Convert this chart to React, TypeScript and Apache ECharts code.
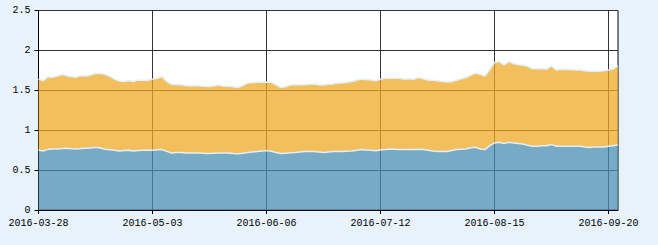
import React, { useEffect, useRef } from "react";
import * as echarts from "echarts";

const dates: string[] = [
  "2016-03-28","2016-03-29","2016-03-30","2016-03-31","2016-04-01",
  "2016-04-05","2016-04-06","2016-04-07","2016-04-08",
  "2016-04-11","2016-04-12","2016-04-13","2016-04-14","2016-04-15",
  "2016-04-18","2016-04-19","2016-04-20","2016-04-21","2016-04-22",
  "2016-04-25","2016-04-26","2016-04-27","2016-04-28","2016-04-29",
  "2016-05-03","2016-05-04","2016-05-05","2016-05-06",
  "2016-05-09","2016-05-10","2016-05-11","2016-05-12","2016-05-13",
  "2016-05-16","2016-05-17","2016-05-18","2016-05-19","2016-05-20",
  "2016-05-23","2016-05-24","2016-05-25","2016-05-26","2016-05-27",
  "2016-05-30","2016-05-31","2016-06-01","2016-06-02","2016-06-03",
  "2016-06-06","2016-06-07","2016-06-08",
  "2016-06-13","2016-06-14","2016-06-15","2016-06-16","2016-06-17",
  "2016-06-20","2016-06-21","2016-06-22","2016-06-23","2016-06-24",
  "2016-06-27","2016-06-28","2016-06-29","2016-06-30","2016-07-01",
  "2016-07-04","2016-07-05","2016-07-06","2016-07-07","2016-07-08",
  "2016-07-11","2016-07-12","2016-07-13","2016-07-14","2016-07-15",
  "2016-07-18","2016-07-19","2016-07-20","2016-07-21","2016-07-22",
  "2016-07-25","2016-07-26","2016-07-27","2016-07-28","2016-07-29",
  "2016-08-01","2016-08-02","2016-08-03","2016-08-04","2016-08-05",
  "2016-08-08","2016-08-09","2016-08-10","2016-08-11","2016-08-12",
  "2016-08-15","2016-08-16","2016-08-17","2016-08-18","2016-08-19",
  "2016-08-22","2016-08-23","2016-08-24","2016-08-25","2016-08-26",
  "2016-08-29","2016-08-30","2016-08-31","2016-09-01","2016-09-02",
  "2016-09-05","2016-09-06","2016-09-07","2016-09-08","2016-09-09",
  "2016-09-12","2016-09-13","2016-09-14",
  "2016-09-19","2016-09-20","2016-09-21","2016-09-22",
];

const lowerSeries: number[] = [
  0.753,0.74,0.76,0.765,0.765,0.77,0.774,0.768,0.765,0.77,
  0.774,0.778,0.787,0.776,0.762,0.755,0.749,0.74,0.745,0.749,
  0.74,0.745,0.749,0.749,0.75,0.755,0.757,0.735,0.715,0.72,
  0.72,0.715,0.715,0.715,0.713,0.707,0.708,0.712,0.715,0.713,
  0.715,0.707,0.705,0.71,0.72,0.728,0.732,0.74,0.744,0.735,
  0.72,0.707,0.712,0.717,0.72,0.726,0.732,0.732,0.732,0.728,
  0.72,0.727,0.732,0.732,0.732,0.736,0.74,0.748,0.757,0.752,
  0.749,0.742,0.753,0.758,0.765,0.762,0.757,0.757,0.757,0.757,
  0.762,0.757,0.749,0.74,0.732,0.732,0.732,0.745,0.757,0.762,
  0.765,0.78,0.787,0.765,0.757,0.807,0.84,0.849,0.832,0.849,
  0.84,0.832,0.826,0.81,0.799,0.799,0.804,0.805,0.822,0.799,
  0.799,0.799,0.799,0.799,0.799,0.79,0.782,0.79,0.79,0.79,
  0.799,0.805,0.816,
];

const upperSeries: number[] = [
  0.887,0.88,0.91,0.90,0.915,0.93,0.906,0.902,0.90,0.915,
  0.906,0.912,0.923,0.934,0.938,0.92,0.891,0.875,0.865,0.871,
  0.87,0.885,0.876,0.876,0.89,0.895,0.913,0.875,0.86,0.85,
  0.85,0.845,0.84,0.845,0.842,0.843,0.84,0.844,0.85,0.837,
  0.837,0.838,0.83,0.85,0.87,0.867,0.868,0.86,0.861,0.865,
  0.85,0.828,0.833,0.848,0.85,0.844,0.838,0.843,0.848,0.842,
  0.845,0.848,0.848,0.858,0.858,0.864,0.87,0.877,0.883,0.883,
  0.881,0.878,0.887,0.892,0.89,0.888,0.893,0.883,0.888,0.883,
  0.898,0.888,0.881,0.885,0.888,0.878,0.873,0.865,0.868,0.883,
  0.895,0.91,0.928,0.935,0.923,0.953,1.01,1.011,0.988,1.011,
  0.995,0.988,0.989,0.99,0.971,0.971,0.966,0.96,0.983,0.956,
  0.966,0.961,0.961,0.956,0.956,0.955,0.958,0.95,0.95,0.955,
  0.956,0.965,0.989,
];

const yTicks: number[] = [0, 0.5, 1, 1.5, 2, 2.5];

const FONT = "'Liberation Mono', 'DejaVu Sans Mono', monospace";

export default function App() {
  const ref = useRef<HTMLDivElement>(null);
  useEffect(() => {
    document.body.style.margin = "0";
    document.body.style.background = "#e7f2fb";
    if (!ref.current) return;
    const chart = echarts.init(ref.current, undefined, { renderer: "svg" });
    chart.setOption({
      animation: false,
      backgroundColor: "#e7f2fb",
      grid: {
        left: 38.5,
        right: 40,
        top: 10.5,
        bottom: 35,
        show: true,
        backgroundColor: "#ffffff",
        borderColor: "#000000",
        borderWidth: 1,
      },
      xAxis: {
        type: "category",
        data: dates,
        boundaryGap: false,
        axisLine: { lineStyle: { color: "#000", width: 1 } },
        axisTick: { show: true, interval: 23, length: 4, lineStyle: { color: "#000" } },
        axisLabel: {
          interval: 23,
          color: "#000",
          fontFamily: FONT,
          fontSize: 10,
          margin: 8,
        },
        splitLine: { show: true, interval: 23, lineStyle: { color: "#333", width: 1 } },
      },
      yAxis: {
        type: "value",
        min: yTicks[0],
        max: yTicks[yTicks.length - 1],
        interval: 0.5,
        axisLine: { show: true, lineStyle: { color: "#000", width: 1 } },
        axisTick: { show: true, length: 4, lineStyle: { color: "#000" } },
        axisLabel: {
          color: "#000",
          fontFamily: FONT,
          fontSize: 10,
          margin: 8,
        },
        splitLine: { show: true, lineStyle: { color: "#333", width: 1 } },
      },
      series: [
        {
          name: "lower",
          type: "line",
          stack: "total",
          data: lowerSeries,
          symbol: "none",
          itemStyle: { color: "#498db2" },
          lineStyle: { color: "#e2f0fb", width: 1.5 },
          areaStyle: { color: "#498db2", opacity: 0.75 },
        },
        {
          name: "upper",
          type: "line",
          stack: "total",
          data: upperSeries,
          symbol: "none",
          itemStyle: { color: "#efaa27" },
          lineStyle: { color: "#e2f0fb", width: 1.5 },
          areaStyle: { color: "#efaa27", opacity: 0.75 },
        },
      ],
    });
    return () => chart.dispose();
  }, []);
  return <div ref={ref} style={{ width: 658, height: 245 }} />;
}
